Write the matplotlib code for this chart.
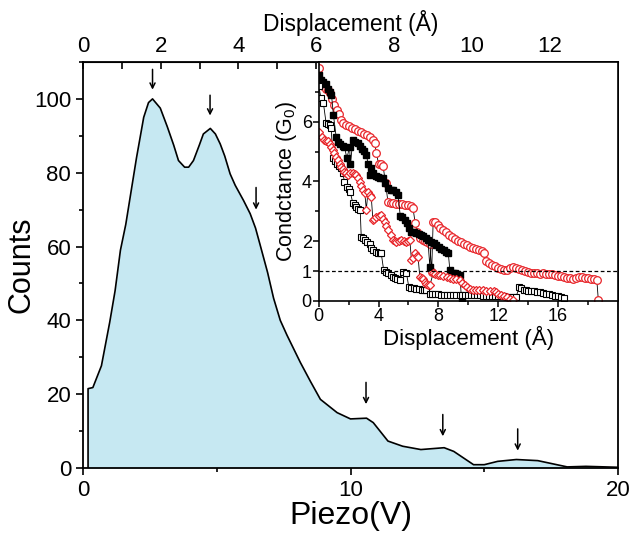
import numpy as np
import matplotlib
matplotlib.use("Agg")
import matplotlib.pyplot as plt

plt.rcParams['font.family'] = ['Liberation Sans', 'DejaVu Sans']
plt.rcParams['mathtext.fontset'] = 'custom'
plt.rcParams['mathtext.rm'] = 'Liberation Sans'
plt.rcParams['mathtext.it'] = 'Liberation Sans:italic'

# ---- main histogram (Piezo V, counts)
piezo = [0.19, 0.19, 0.37, 0.69, 1.0, 1.2, 1.4, 1.6, 2.0, 2.27, 2.45, 2.6, 2.89, 3.15, 3.39,
         3.57, 3.8, 3.95, 4.13, 4.35, 4.5, 4.76, 4.95, 5.13, 5.3, 5.5, 5.69, 6.0, 6.25, 6.45,
         6.62, 6.9, 7.125, 7.375, 7.625, 8.125, 8.5, 8.875, 9.5, 10.0, 10.6, 10.85, 11.4,
         11.95, 12.63, 13.5, 13.86, 14.6, 15.0, 15.5, 16.2, 17.0, 18.1, 18.8, 20.0]
counts = [0, 21.5, 21.8, 27.7, 39.5, 48, 59, 66, 84, 95, 99, 100, 97.5, 92.5, 87.5,
          83.3, 81.5, 81.5, 83.3, 87.5, 90.5, 92, 90.5, 87.8, 84.5, 79.7, 76.6, 72.5, 68.9, 65,
          60.5, 53, 46, 40, 36, 28.6, 23.5, 18.6, 15, 13.3, 13.5, 12.3, 7.3,
          5.9, 5.0, 5.5, 4.5, 0.9, 0.9, 1.8, 2.3, 2.0, 0.3, 0.45, 0.2]
# arrows: x, tail, head
arrow_x    = [2.6, 4.75, 6.47, 10.58, 13.45, 16.25]
arrow_tail = [108, 101, 76, 23.2, 14.5, 10.6]
arrow_head = [102.5, 95.5, 70, 17.3, 8.6, 4.7]

# ---- inset traces (displacement A, conductance G0)
circ_x = [0.0, 0.1, 0.25, 0.45, 0.6, 0.75, 0.9, 1.05, 1.2, 1.35, 1.5, 1.65, 1.8, 2.0, 2.2, 2.4,
          2.6, 2.8, 3.0, 3.2, 3.4, 3.6, 3.75, 3.85, 4.0, 4.15, 4.3, 4.47, 4.63, 4.8, 4.97, 5.15,
          5.35, 5.55, 5.75, 5.95, 6.15, 6.3, 6.45, 6.6, 6.76, 6.95, 7.1, 7.25, 7.43, 7.55, 7.65,
          7.8, 7.95, 8.1, 8.3, 8.5, 8.7, 8.9, 9.1, 9.3, 9.5, 9.7, 9.9, 10.1, 10.3, 10.5, 10.7,
          10.9, 11.05, 11.2, 11.4, 11.6, 11.8, 12.0, 12.2, 12.4, 12.6, 12.8, 13.0, 13.2, 13.4,
          13.6, 13.8, 14.0, 14.2, 14.4, 14.6, 14.8, 15.0, 15.2, 15.4, 15.6, 15.8, 16.0, 16.2,
          16.4, 16.6, 16.8, 17.0, 17.2, 17.4, 17.6, 17.8, 18.0, 18.2, 18.4, 18.6, 18.7]
circ_g = [7.8, 7.4, 7.2, 7.1, 7.05, 6.95, 6.75, 6.57, 6.4, 6.25, 6.05, 5.95, 5.9, 5.85, 5.8, 5.75,
          5.7, 5.65, 5.6, 5.55, 5.5, 5.4, 5.3, 4.94, 4.6, 4.58, 4.52, 3.94, 3.3, 3.28, 3.27, 3.26,
          3.24, 3.23, 3.22, 3.2, 3.18, 3.12, 2.6, 2.3, 2.1, 2.05, 2.0, 1.97, 1.92, 0.97, 2.65,
          2.63, 2.55, 2.45, 2.38, 2.3, 2.22, 2.15, 2.08, 2.02, 1.97, 1.92, 1.86, 1.81, 1.77, 1.73, 1.7,
          1.67, 1.6, 1.35, 1.27, 1.21, 1.17, 1.12, 1.08, 1.05, 1.05, 1.12, 1.14, 1.1, 1.07,
          1.05, 1.02, 0.98, 0.95, 0.94, 0.92, 0.91, 0.92, 0.9, 0.9, 0.89, 0.88, 0.85, 0.82,
          0.8, 0.78, 0.76, 0.75, 0.76, 0.8, 0.8, 0.78, 0.76, 0.74, 0.72, 0.69, 0.02]

fsq_x = [0.0, 0.15, 0.3, 0.45, 0.6, 0.75, 0.85, 0.98, 1.16, 1.3, 1.45, 1.6, 1.72, 1.88, 2.06, 2.12,
         2.28, 2.45, 2.62, 2.75, 2.9, 3.05, 3.18, 3.3, 3.4, 3.51, 3.65, 3.8, 3.95, 4.1, 4.3, 4.45,
         4.63, 4.8, 4.97, 5.15, 5.3, 5.45, 5.6, 5.75, 5.9, 6.05, 6.2, 6.35, 6.53, 6.7, 6.85, 6.98,
         7.15, 7.3, 7.43, 7.52, 7.7, 7.87, 8.05, 8.2, 8.35, 8.5, 8.66, 8.77, 8.95, 9.1, 9.25, 9.44, 9.55]
fsq_g = [7.57, 7.4, 7.32, 7.25, 7.1, 7.0, 6.9, 6.23, 5.5, 5.32, 5.25, 5.18, 5.15, 4.78, 5.15, 4.6,
         5.39, 5.33, 5.28, 5.2, 5.08, 5.02, 4.89, 4.6, 4.22, 4.44, 4.3, 4.2, 4.15, 4.12, 4.1, 3.95,
         3.77, 3.73, 3.71, 3.65, 3.55, 2.85, 2.8, 2.7, 2.62, 2.45, 2.32, 2.3, 2.26, 2.24, 2.21, 2.18,
         2.1, 2.04, 1.14, 1.98, 1.93, 1.87, 1.8, 1.75, 1.7, 1.65, 1.61, 1.03, 0.95, 0.92, 0.9, 0.86, 0.04]

osq_x = [0.0, 0.15, 0.31, 0.49, 0.62, 0.72, 0.83, 0.94, 1.08, 1.21, 1.35, 1.5, 1.6, 1.72, 1.88, 2.0,
         2.1, 2.28, 2.4, 2.5, 2.65, 2.77, 2.84, 2.95, 3.06, 3.2, 3.4, 3.52, 3.62, 3.8, 3.96, 4.1,
         4.18, 4.34, 4.5, 4.63, 4.8, 4.97, 5.1, 5.25, 5.41, 5.64, 5.86, 6.02, 6.2, 6.35, 6.53, 6.7,
         6.9, 7.05, 7.2, 7.43, 7.6, 7.8, 8.0, 8.2, 8.4, 8.6, 8.8, 9.0, 9.2, 9.44, 9.6, 9.8, 10.0,
         10.2, 10.4, 10.6, 10.8, 11.0, 11.2, 11.4, 11.6, 11.8, 12.0, 12.2, 12.4, 12.6, 12.8, 13.0,
         13.2, 13.4, 13.55, 13.7, 13.85, 14.0, 14.2, 14.4, 14.6, 14.8, 15.0, 15.2, 15.4, 15.6,
         15.8, 16.0, 16.2, 16.4]
osq_g = [7.18, 6.79, 6.62, 5.95, 5.92, 5.9, 5.78, 4.78, 4.68, 4.6, 4.52, 4.44, 4.3, 3.99, 3.83, 3.75,
         3.66, 3.27, 3.2, 3.15, 3.08, 3.04, 2.15, 2.1, 2.04, 1.98, 1.92, 1.78, 1.7, 1.65, 1.61, 1.6,
         1.59, 1.03, 0.96, 0.92, 0.86, 0.8, 0.76, 0.72, 0.69, 0.97, 0.95, 0.47, 0.45, 0.43, 0.41, 0.4,
         0.38, 0.37, 0.36, 0.25, 0.23, 0.22, 0.22, 0.21, 0.21, 0.2, 0.2, 0.2, 0.19, 0.19, 0.19, 0.19, 0.19,
         0.19, 0.19, 0.19, 0.19, 0.18, 0.18, 0.17, 0.17, 0.16, 0.16, 0.15, 0.15, 0.14, 0.14, 0.13,
         0.13, 0.47, 0.42, 0.36, 0.36, 0.35, 0.34, 0.34, 0.31, 0.29, 0.27, 0.25, 0.23, 0.2,
         0.17, 0.15, 0.13, 0.11]

dia_x = [0.0, 0.2, 0.38, 0.5, 0.6, 0.72, 0.83, 0.95, 1.05, 1.17, 1.28, 1.4, 1.5, 1.6, 1.72, 1.83,
         1.95, 2.1, 2.28, 2.4, 2.5, 2.62, 2.73, 2.84, 2.95, 3.08, 3.18, 3.29, 3.4, 3.51, 3.62, 3.72,
         3.85, 4.0, 4.18, 4.3, 4.41, 4.52, 4.63, 4.8, 4.97, 5.1, 5.19, 5.35, 5.53, 5.7, 5.86, 6.0,
         6.09, 6.2, 6.3, 6.42, 6.55, 6.64, 6.76, 6.88, 6.98, 7.1, 7.2, 7.3, 7.43, 7.65, 7.8, 7.95,
         8.1, 8.3, 8.55, 8.75, 9.0, 9.2, 9.44, 9.6, 9.75, 9.89, 10.1, 10.3, 10.5, 10.7, 11.0, 11.2,
         11.45, 11.7, 11.85, 12.0, 12.2, 12.4, 12.6, 12.8, 13.0]
dia_g = [5.67, 5.5, 5.39, 5.36, 5.34, 5.25, 5.17, 5.05, 4.94, 4.83, 4.72, 4.6, 4.5, 4.42, 4.33, 4.27,
         4.22, 4.3, 4.27, 4.24, 4.22, 4.1, 3.99, 3.85, 3.71, 3.6, 3.06, 3.66, 3.55, 3.49, 2.71, 2.76,
         2.82, 2.85, 2.87, 2.75, 2.65, 2.5, 2.37, 2.2, 2.04, 2.0, 1.98, 2.02, 2.04, 2.0, 1.98, 2.02,
         2.04, 1.36, 1.45, 1.59, 1.52, 1.48, 0.8, 0.78, 0.75, 0.65, 0.58, 0.55, 0.53, 0.92, 0.9, 0.88,
         0.86, 0.83, 0.8, 0.78, 0.75, 0.72, 0.69, 0.6, 0.52, 0.47, 0.4, 0.36, 0.36, 0.36, 0.36, 0.35,
         0.35, 0.34, 0.3, 0.25, 0.2, 0.16, 0.13, 0.08, 0.02]

V_TO_A = 13.77 / 20.0
RED = "#E8262B"

fig = plt.figure(figsize=(6.3, 5.39), dpi=100)
ax = fig.add_axes([0.1317, 0.1317, 0.8493, 0.7533])
ax.fill_between(piezo, counts, 0, color="#C6E8F2", lw=0)
ax.plot(piezo, counts, color="k", lw=1.2)
for x, t, h in zip(arrow_x, arrow_tail, arrow_head):
    ax.annotate("", xy=(x, h), xytext=(x, t),
                arrowprops=dict(arrowstyle="->", color="k", lw=1.1, mutation_scale=9,
                                shrinkA=0, shrinkB=0))
ax.set_xlim(0, 20); ax.set_ylim(0, 110)
ax.set_xticks([0, 10, 20]); ax.set_xticks([5, 15], minor=True)
ax.set_yticks(range(0, 101, 20)); ax.set_yticks(range(10, 111, 20), minor=True)
ax.tick_params(labelsize=16, width=1.2, length=5, direction="out")
ax.tick_params(which="minor", width=1.2, length=3, direction="out")
ax.tick_params(right=False, top=False)
for s in ax.spines.values(): s.set_linewidth(1.3)
ax.set_xlabel("Piezo(V)", fontsize=23, labelpad=0)
ax.set_ylabel("Counts", fontsize=22)
ax.yaxis.set_label_coords(-0.086, 0.5)

top = ax.secondary_xaxis("top", functions=(lambda v: v * V_TO_A, lambda d: d / V_TO_A))
top.set_xticks(range(0, 13, 2)); top.set_xticks(range(1, 14, 2), minor=True)
top.tick_params(labelsize=16, width=1.2, length=5, direction="in")
top.tick_params(which="minor", width=1.2, length=5, direction="in")
top.set_xlabel("Displacement (Å)", fontsize=16.5, labelpad=4)

# ---- inset
ins = fig.add_axes([0.506, 0.4416, 0.4746, 0.4434])
ins.plot(circ_x, circ_g, color="k", lw=0.6, marker="o", ms=5.5, mfc="white", mec=RED, mew=0.9)
ins.plot(fsq_x, fsq_g, color="k", lw=0.6, marker="s", ms=5, mfc="k", mec="k")
ins.plot(osq_x, osq_g, color="k", lw=0.6, marker="s", ms=5, mfc="white", mec="k", mew=0.8)
ins.plot(dia_x, dia_g, color="k", lw=0.6, marker="D", ms=4.5, mfc="white", mec=RED, mew=0.9)
ins.axhline(1, color="k", lw=0.9, ls=(0, (3, 2)))
ins.set_xlim(0, 20); ins.set_ylim(0, 8)
ins.set_xticks([0, 4, 8, 12, 16]); ins.set_xticks([2, 6, 10, 14, 18], minor=True)
ins.set_yticks([0, 1, 2, 4, 6]); ins.set_yticks([3, 5, 7], minor=True)
ins.tick_params(labelsize=13, width=1.1, length=4, direction="out", pad=1)
ins.tick_params(which="minor", width=1.1, length=3, direction="out")
for s in ins.spines.values(): s.set_linewidth(1.2)
ins.set_xlabel("Displacement (Å)", fontsize=16, labelpad=1)
ins.set_ylabel("Condctance (G$_0$)", fontsize=15.5, labelpad=2)

fig.savefig("out.png", dpi=100)
